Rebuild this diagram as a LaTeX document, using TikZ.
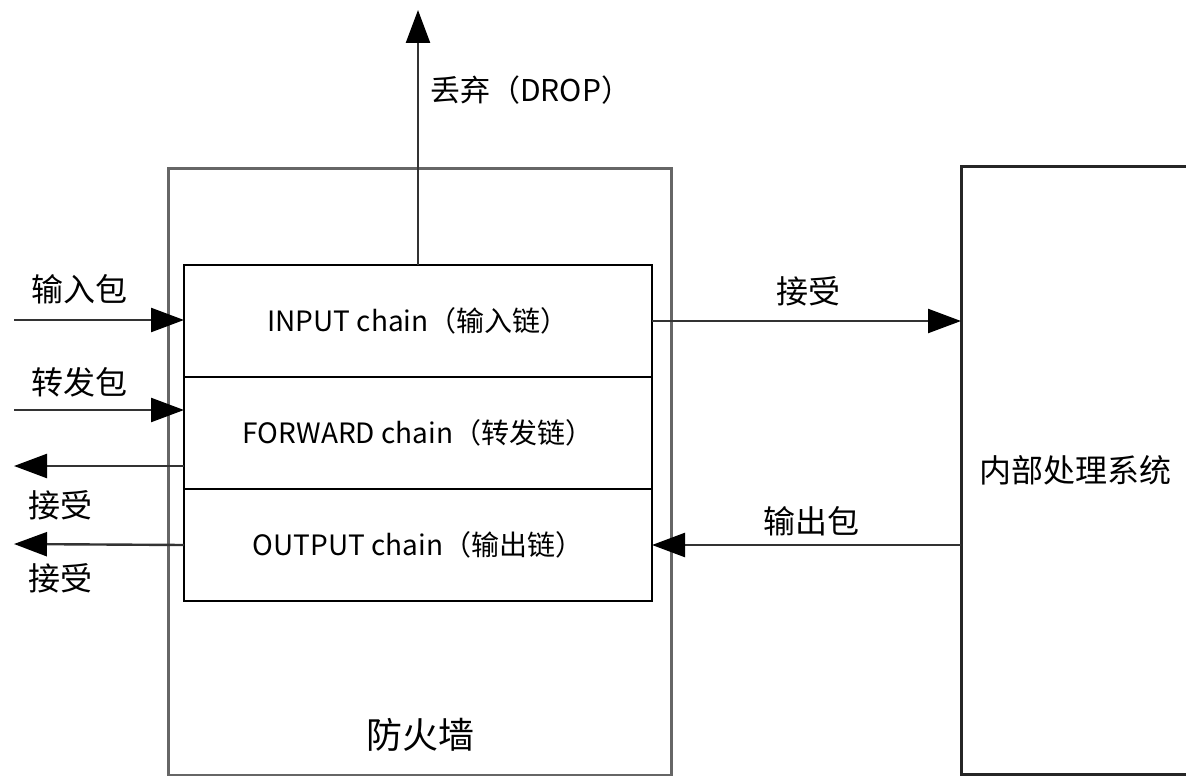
\documentclass[tikz,border=0pt]{standalone}
\usepackage{fontspec}
\setmainfont{Noto Sans CJK SC}
\usetikzlibrary{arrows.meta,positioning}

\begin{document}
\begin{tikzpicture}[x=1pt,y=-1pt,
    chainbox/.style={draw,line width=2pt,outer sep=0pt,inner sep=0pt,
      minimum width=468pt,minimum height=112pt,font=\fontsize{28}{28}\selectfont},
    lbl/.style={inner sep=0pt,font=\fontsize{32}{32}\selectfont},
    flow/.style={line width=2.4pt,draw=black!80,
      -{Triangle[length=33pt,width=24pt,fill=black,color=black]}}]
\useasboundingbox (0,0) rectangle (1186,776);

% firewall and the three chains
\node [draw=black!60,line width=3pt,outer sep=0pt,inner sep=0pt,anchor=north west,
       minimum width=503pt,minimum height=607pt] (fw) at (168,168) {};
\node [chainbox,anchor=north west]  (input)   at (184,265) {INPUT chain（输入链）};
\node [chainbox,below=0pt of input]   (forward) {FORWARD chain（转发链）};
\node [chainbox,below=0pt of forward] (output)  {OUTPUT chain（输出链）};
\node [inner sep=0pt,font=\fontsize{36}{36}\selectfont] (fwname) at (420,735) {防火墙};

% internal system
\node [draw=black!85,line width=3pt,outer sep=0pt,inner sep=0pt,anchor=north west,
       minimum width=228pt,minimum height=608pt,font=\fontsize{32}{32}\selectfont]
      (sys) at (961,166) {内部处理系统};

% free ends
\coordinate (drop)   at (418,10);
\coordinate (inpkt)  at (14,320);
\coordinate (fwdpkt) at (14,410);
\coordinate (fwdacc) at (14,466);
\coordinate (outacc) at (14,544);

% arrows
\draw [flow] (input.north -| drop) -- (drop);
\draw [flow] (inpkt) -- (inpkt -| input.west);
\draw [flow] (fwdpkt) -- (fwdpkt -| forward.west);
\draw [flow] (fwdacc -| forward.west) -- (fwdacc);
\draw [flow] (output.west) -- (outacc);
\draw [flow] (input.east) -- (input.east -| sys.west);
\draw [flow] (output.east -| sys.west) -- (output.east);

% labels
\path
    (430, 90) node [lbl,anchor=west,font=\fontsize{30}{30}\selectfont] (droplbl) {丢弃（DROP）}
    ( 79,289) node [lbl] (inlbl)   {输入包}
    ( 79,382) node [lbl] (fwdlbl)  {转发包}
    ( 60,505) node [lbl] (acc1)    {接受}
    ( 60,578) node [lbl] (acc2)    {接受}
    (808,291) node [lbl] (acc3)    {接受}
    (811,521) node [lbl] (outlbl)  {输出包};
\end{tikzpicture}
\end{document}
